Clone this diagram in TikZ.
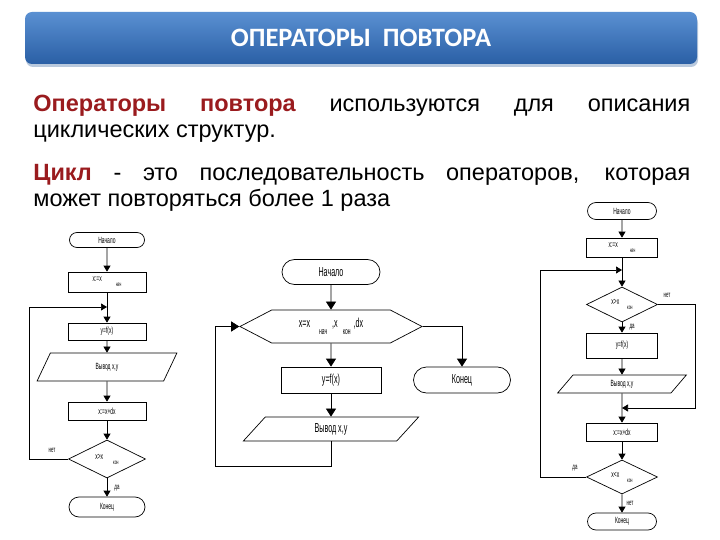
\documentclass[tikz,border=0pt]{standalone}
\usepackage{fontspec}
\setmainfont{Liberation Sans}
\newfontfamily\titlefont{Carlito}
\newfontfamily\flowfont[FakeStretch=0.55]{Liberation Sans}
\usetikzlibrary{arrows.meta,shapes.geometric,shapes.misc,shapes.symbols}

\definecolor{hdrtop}{HTML}{5A90D2}
\definecolor{hdrbot}{HTML}{2A5FA5}
\definecolor{hdrshadow}{HTML}{B9C9DD}
\definecolor{keyred}{HTML}{9A1B1E}

\newcommand{\subtxt}[1]{\raisebox{-.55em}{\scalebox{.7}{#1}}}

\tikzset{
	hdrbar/.style={rounded corners=7pt, top color=hdrtop, bottom color=hdrbot,
		minimum width=672pt, minimum height=52pt, text=white,
		font=\titlefont\bfseries\fontsize{26.5}{28}\selectfont},
	term/.style={draw, rounded rectangle, inner sep=1pt},
	proc/.style={draw, rectangle, inner sep=1pt},
	io/.style={draw, trapezium, trapezium stretches=true, inner sep=1pt},
	cond/.style={draw, diamond, inner sep=0pt},
	loopbox/.style={draw, signal, signal to=east and west, inner sep=1pt},
	small chart/.style={font=\flowfont\fontsize{9}{10}\selectfont},
	big chart/.style={font=\flowfont\fontsize{13}{14}\selectfont},
	lbl/.style={font=\flowfont\fontsize{8}{9}\selectfont, inner sep=0pt},
	para/.style={anchor=north west, text width=657pt, align=justify, inner sep=0pt,
		font=\fontsize{23.5}{25.5}\selectfont}
}

\begin{document}
\begin{tikzpicture}[x=1pt, y=-1pt, line width=0.7pt, >={Triangle[length=6pt,width=7pt]}]
	\useasboundingbox (0,0) rectangle (720,540);
	\fill[white] (0,0) rectangle (720,540);

	% title bar
	\fill[hdrshadow, rounded corners=7pt] (26,16) rectangle (698,67);
	\node[hdrbar] (title) at (361,38) {\raisebox{-2pt}{ОПЕРАТОРЫ\ \ ПОВТОРА}};

	% text
	\node[para] (intro) at (33,95)
		{\textcolor{keyred}{\bfseries Операторы повтора} используются для описания\linebreak циклических структур.};
	\node[para] (cycle) at (33,164)
		{\textcolor{keyred}{\bfseries Цикл} - это последовательность операторов, которая\linebreak может повторяться более 1 раза};

	% left chart: loop with postcondition
	\node[term, small chart, minimum width=77pt, minimum height=15pt] (lstart) at (107,240) {Начало};
	\node[proc, small chart, minimum width=78pt, minimum height=20pt] (linit) at (107,282) {x:=x\hspace{14pt}\subtxt{нач}};
	\coordinate (ljoin) at (107,307);
	\node[proc, small chart, minimum width=78pt, minimum height=17pt] (lcalc) at (107,331.5) {y=f(x)};
	\node[io, small chart, minimum width=140pt, minimum height=28pt,
		trapezium left angle=74, trapezium right angle=106] (lout) at (107,367) {Вывод x,y};
	\node[proc, small chart, minimum width=78pt, minimum height=18pt] (lstep) at (107,411) {x:=x+dx};
	\node[cond, small chart, minimum width=77pt, minimum height=38pt] (ltest) at (107,459) {x>x\hspace{10pt}\subtxt{кон}};
	\node[term, small chart, minimum width=78pt, minimum height=20pt] (lend) at (107,507) {Конец};
	\node[lbl] (lno) at (52,450) {нет};
	\node[lbl] (lyes) at (117,488) {да};

	\draw[->] (lstart) -- (linit);
	\draw[->] (linit) -- (lcalc);
	\draw[->] (lcalc) -- (lout);
	\draw[->] (lout) -- (lstep);
	\draw[->] (lstep) -- (ltest);
	\draw[->] (ltest) -- (lend);
	\draw[->] (ltest.west) -- (29,459) |- (ljoin);

	% middle chart: loop with parameter
	\begin{scope}[>={Triangle[length=8pt,width=10pt]}]
		\node[term, big chart, minimum width=100pt, minimum height=25pt] (mstart) at (331,272) {Начало};
		\node[loopbox, big chart, minimum width=182pt, minimum height=33pt, signal pointer angle=55] (mloop) at (331,326.5)
			{x=x\hspace{9pt}\subtxt{нач}\hspace{5pt},x\hspace{5pt}\subtxt{кон}\hspace{3pt},dx};
		\node[proc, big chart, minimum width=100pt, minimum height=26pt] (mcalc) at (331,380) {y=f(x)};
		\node[io, big chart, minimum width=176pt, minimum height=24pt,
			trapezium left angle=67, trapezium right angle=113] (mout) at (331,429) {Вывод x,y};
		\node[term, big chart, minimum width=99pt, minimum height=26pt] (mend) at (462,380) {Конец};

		\draw[->] (mstart) -- (mloop);
		\draw[->] (mloop) -- (mcalc);
		\draw[->] (mcalc) -- (mout);
		\draw[->] (mout.south) |- (215,466) |- (mloop.west);
		\draw[->] (mloop.east) -| (mend.north);
	\end{scope}

	% right chart: loop with precondition
	\node[term, small chart, minimum width=71pt, minimum height=17pt] (rstart) at (622,211) {Начало};
	\node[proc, small chart, minimum width=71pt, minimum height=19pt] (rinit) at (622,247.5) {x:=x\hspace{12pt}\subtxt{нач}};
	\coordinate (rjoin) at (622,270);
	\node[cond, small chart, minimum width=71pt, minimum height=35pt] (rtest) at (622,304.5) {x>x\hspace{8pt}\subtxt{кон}};
	\node[proc, small chart, minimum width=71pt, minimum height=25pt] (rcalc) at (622,345.5) {y=f(x)};
	\node[io, small chart, minimum width=129pt, minimum height=18pt,
		trapezium left angle=69, trapezium right angle=111] (rout) at (622,384) {Вывод x,y};
	\coordinate (rmerge) at (622,408);
	\node[proc, small chart, minimum width=71pt, minimum height=18pt] (rstep) at (622,432) {x:=x+dx};
	\node[cond, small chart, minimum width=71pt, minimum height=34pt] (rcheck) at (622,477) {x<x\hspace{8pt}\subtxt{кон}};
	\node[term, small chart, minimum width=71pt, minimum height=17pt] (rend) at (622,521.5) {Конец};
	\node[lbl] (rno) at (667,295) {нет};
	\node[lbl] (ryes) at (632,327) {да};
	\node[lbl] (ryes2) at (575,468) {да};
	\node[lbl] (rno2) at (630,503) {нет};

	\draw[->] (rstart) -- (rinit);
	\draw[->] (rinit) -- (rtest);
	\draw[->] (rtest) -- (rcalc);
	\draw[->] (rcalc) -- (rout);
	\draw[->] (rout) -- (rstep);
	\draw[->] (rstep) -- (rcheck);
	\draw[->] (rcheck) -- (rend);
	\draw[->] (rtest.east) -- (695,304.5) |- (rmerge);
	\draw[->] (rcheck.west) -- (540,477) |- (rjoin);
\end{tikzpicture}
\end{document}
